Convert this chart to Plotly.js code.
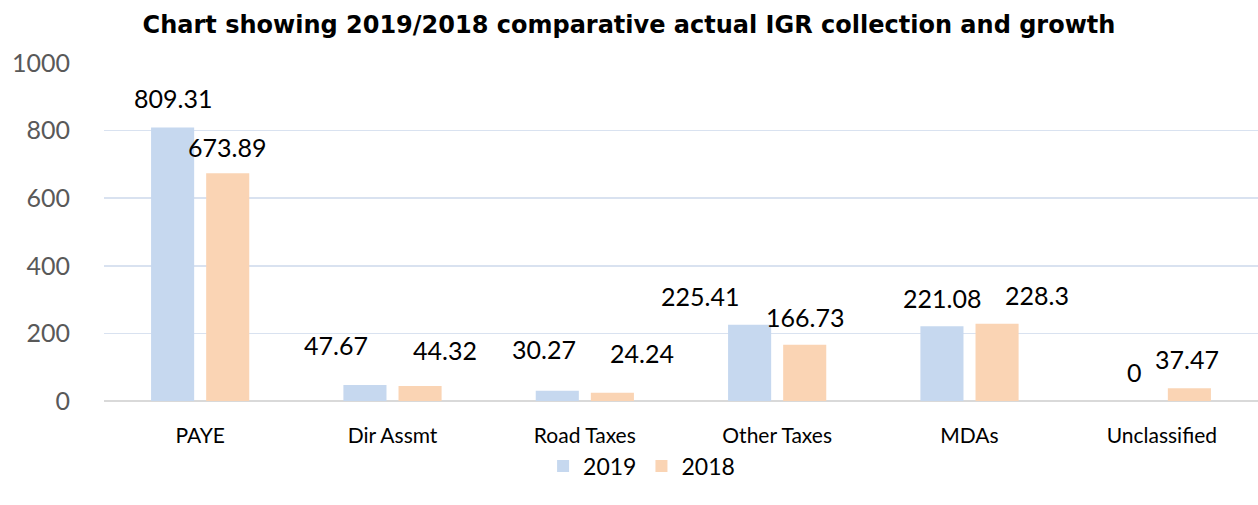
<!DOCTYPE html>
<html>
<head>
<meta charset="utf-8">
<script src="https://cdn.plot.ly/plotly-3.0.1.min.js"></script>
<style>html,body{margin:0;padding:0;background:#fff;}#chart{width:1258px;height:505px;}</style>
</head>
<body>
<div id="chart"></div>
<script>
// ---- data ----
var categories = ["PAYE", "Dir Assmt", "Road Taxes", "Other Taxes", "MDAs", "Unclassified"];
var values2019 = [809.31, 47.67, 30.27, 225.41, 221.08, 0];
var values2018 = [673.89, 44.32, 24.24, 166.73, 228.3, 37.47];
var seriesNames = ["2019", "2018"];
var yTicks = [0, 200, 400, 600, 800, 1000];

// ---- label placement tweaks (pixels; styling only) ----
var dx2019 = [0, -29, -13, -50, 0, 0];
var dy2019 = [29, 40, 42, 29, 28, 29];
var dx2018 = [-1, 25, 30, 0, 40, -2];
var dy2018 = [26, 36, 40, 28, 29, 29];
var barOffsetPx = 27.5;

var col2019 = "#C6D8EF";
var col2018 = "#FAD4B4";
var labelFont = {family: "Lato, 'Open Sans', sans-serif", size: 25, color: "#000000"};

var traces = [
  {type: "bar", name: seriesNames[0], x: categories, y: values2019,
   marker: {color: col2019}, hoverinfo: "none"},
  {type: "bar", name: seriesNames[1], x: categories, y: values2018,
   marker: {color: col2018}, hoverinfo: "none"}
];

var annotations = [];
categories.forEach(function (c, i) {
  annotations.push({x: c, y: values2019[i], xref: "x", yref: "y",
    text: String(values2019[i]), showarrow: false, font: labelFont,
    xanchor: "center", yanchor: "middle",
    xshift: -barOffsetPx + dx2019[i], yshift: dy2019[i]});
  annotations.push({x: c, y: values2018[i], xref: "x", yref: "y",
    text: String(values2018[i]), showarrow: false, font: labelFont,
    xanchor: "center", yanchor: "middle",
    xshift: barOffsetPx + dx2018[i], yshift: dy2018[i]});
});

var layout = {
  width: 1258, height: 505,
  margin: {l: 104, r: 0, t: 63.3, b: 104.3, pad: 0},
  paper_bgcolor: "#ffffff", plot_bgcolor: "#ffffff",
  title: {
    text: "<b>Chart showing 2019/2018 comparative actual IGR collection and growth</b>",
    font: {family: "'DejaVu Sans', Verdana, sans-serif", size: 24, color: "#000000"},
    x: 0.5, xref: "container", xanchor: "center",
    y: 1 - 25 / 505, yref: "container", yanchor: "middle"
  },
  barmode: "group",
  bargap: 0.427,
  bargroupgap: 0.218,
  xaxis: {
    type: "category", range: [-0.5, 5.5],
    showgrid: false, zeroline: false,
    showline: false,
    ticks: "outside", ticklen: 16, tickcolor: "rgba(0,0,0,0)",
    tickfont: {family: "Lato, 'Open Sans', sans-serif", size: 21, color: "#000000"}
  },
  yaxis: {
    range: [0, 1000], tickvals: yTicks, ticktext: yTicks.map(String),
    showgrid: true, gridcolor: "#D9E2F0", gridwidth: 1.5,
    zeroline: true, zerolinecolor: "#D9D9D9", zerolinewidth: 2,
    showline: false,
    ticks: "outside", ticklen: 28, tickcolor: "rgba(0,0,0,0)",
    tickfont: {family: "Lato, 'Open Sans', sans-serif", size: 25, color: "#595959"}
  },
  showlegend: true,
  legend: {
    orientation: "h", xref: "container", yref: "container",
    x: 0.51, xanchor: "center", y: 1 - 466 / 505, yanchor: "middle",
    bgcolor: "rgba(0,0,0,0)",
    font: {family: "Lato, 'Open Sans', sans-serif", size: 23, color: "#000000"},
    itemwidth: 30, tracegroupgap: 0
  },
  annotations: annotations
};

Plotly.newPlot("chart", traces, layout, {displayModeBar: false, staticPlot: true});
</script>
</body>
</html>
